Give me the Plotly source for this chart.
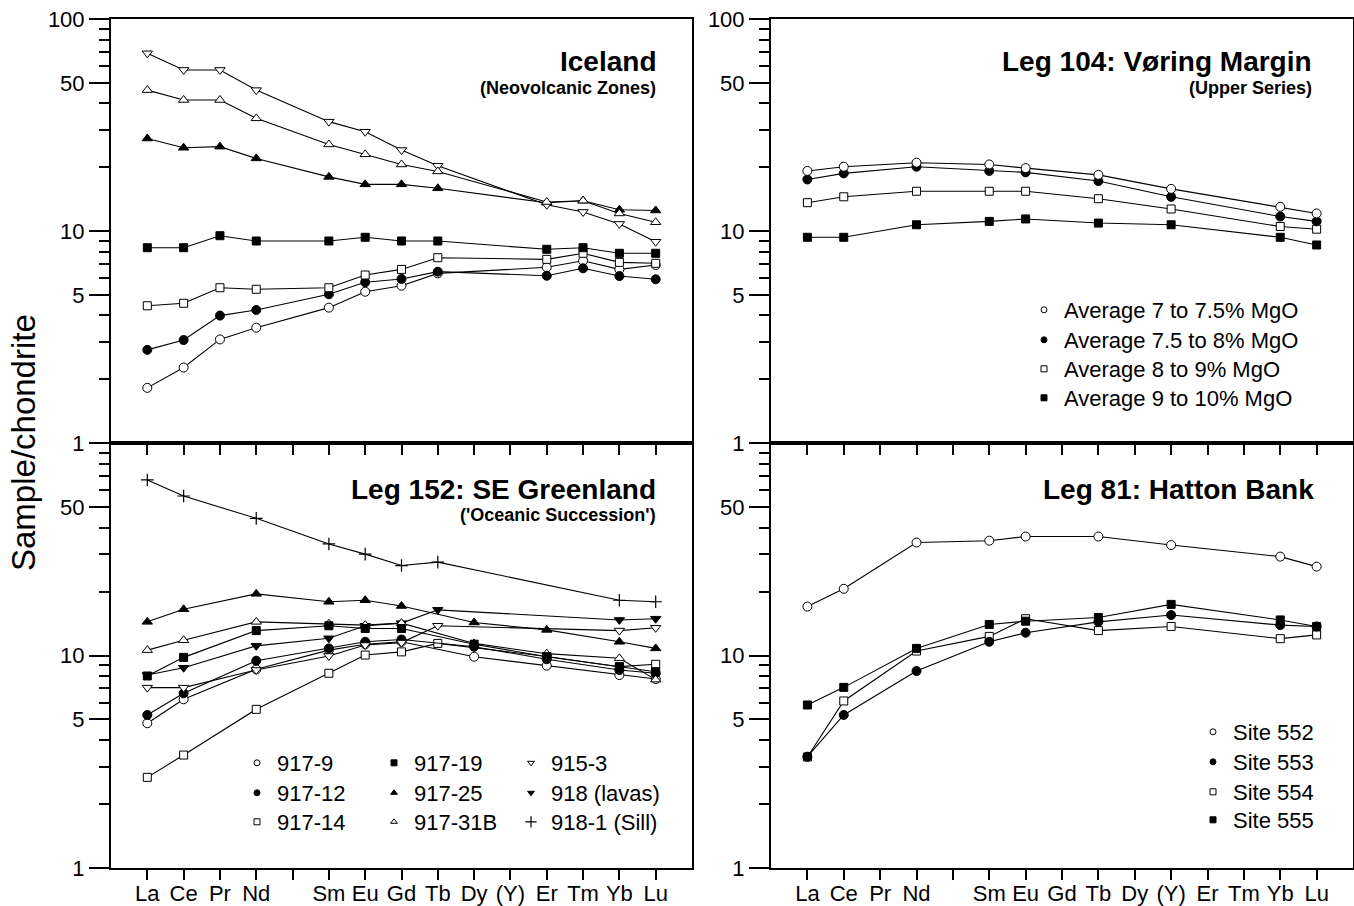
import plotly.graph_objects as go

# ---------------- data ----------------
ELEMENTS = ["La", "Ce", "Pr", "Nd", "Pm", "Sm", "Eu", "Gd", "Tb", "Dy", "Y", "Er", "Tm", "Yb", "Lu"]
TICK_LABELS = ["La", "Ce", "Pr", "Nd", "", "Sm", "Eu", "Gd", "Tb", "Dy", "(Y)", "Er", "Tm", "Yb", "Lu"]

# Iceland (Neovolcanic Zones)
ice_el = ["La", "Ce", "Pr", "Nd", "Sm", "Eu", "Gd", "Tb", "Er", "Tm", "Yb", "Lu"]
ice_tri_down_open = [68.9, 57.5, 57.5, 46.2, 32.8, 29.4, 24.1, 20.3, 13.3, 12.3, 10.8, 8.9]
ice_tri_up_open = [46.2, 41.5, 41.5, 34.0, 25.6, 23.0, 20.6, 19.1, 13.7, 13.9, 12.1, 11.0]
ice_tri_up_fill = [27.3, 24.7, 25.0, 22.0, 18.0, 16.6, 16.6, 15.9, 13.6, 13.9, 12.6, 12.5]
ice_sq_fill = [8.34, 8.34, 9.5, 8.97, 8.97, 9.34, 8.97, 8.97, 8.2, 8.34, 7.85, 7.85]
ice_sq_open = [4.44, 4.56, 5.40, 5.31, 5.40, 6.20, 6.59, 7.48, 7.35, 7.85, 7.11, 7.04]
ice_circ_fill = [2.75, 3.06, 3.99, 4.24, 5.03, 5.73, 5.94, 6.43, 6.15, 6.67, 6.13, 5.92]
ice_circ_open = [1.82, 2.27, 3.08, 3.50, 4.35, 5.17, 5.52, 6.31, 6.74, 7.24, 6.59, 6.91]

# Leg 104: Voring Margin (Upper Series)
vor_el = ["La", "Ce", "Nd", "Sm", "Eu", "Tb", "Y", "Yb", "Lu"]
vor_names = ["Average 7 to 7.5% MgO", "Average 7.5 to 8% MgO", "Average 8 to 9% MgO", "Average 9 to 10% MgO"]
vor_7_75 = [19.2, 20.1, 21.0, 20.6, 19.8, 18.4, 15.8, 13.0, 12.1]
vor_75_8 = [17.5, 18.7, 20.1, 19.2, 18.9, 17.2, 14.5, 11.7, 11.1]
vor_8_9 = [13.6, 14.5, 15.4, 15.4, 15.4, 14.2, 12.7, 10.5, 10.2]
vor_9_10 = [9.34, 9.34, 10.7, 11.1, 11.4, 10.9, 10.7, 9.34, 8.59]

# Leg 152: SE Greenland ('Oceanic Succession')
g_917_9_el = ["La", "Ce", "Nd", "Sm", "Eu", "Gd", "Dy", "Er", "Yb", "Lu"]
g_917_9 = [4.80, 6.22, 8.61, 10.6, 11.3, 11.6, 9.87, 8.96, 8.09, 7.75]
g_917_12_el = ["La", "Ce", "Nd", "Sm", "Eu", "Gd", "Dy", "Er", "Yb", "Lu"]
g_917_12 = [5.25, 6.64, 9.45, 10.8, 11.6, 11.9, 11.0, 9.6, 8.55, 8.25]
g_917_14_el = ["La", "Ce", "Nd", "Sm", "Eu", "Gd", "Tb", "Er", "Yb", "Lu"]
g_917_14 = [2.67, 3.40, 5.58, 8.25, 10.05, 10.4, 11.4, 9.9, 8.86, 9.09]
g_917_19_el = ["La", "Ce", "Nd", "Sm", "Eu", "Gd", "Dy", "Er", "Yb", "Lu"]
g_917_19 = [8.01, 9.8, 13.1, 13.8, 13.4, 13.4, 11.3, 9.87, 8.86, 8.39]
g_917_25_el = ["La", "Ce", "Nd", "Sm", "Eu", "Gd", "Dy", "Er", "Yb", "Lu"]
g_917_25 = [14.4, 16.5, 19.5, 17.9, 18.2, 17.1, 14.3, 13.2, 11.6, 10.8]
g_917_31B_el = ["La", "Ce", "Nd", "Sm", "Eu", "Gd", "Dy", "Er", "Yb", "Lu"]
g_917_31B = [10.6, 11.8, 14.4, 14.1, 13.9, 14.2, 11.4, 10.2, 9.7, 7.7]
g_915_3_el = ["La", "Ce", "Nd", "Sm", "Eu", "Gd", "Tb", "Yb", "Lu"]
g_915_3 = [7.06, 7.06, 8.55, 9.95, 11.2, 11.5, 13.8, 13.1, 13.5]
g_918_lav_el = ["La", "Ce", "Nd", "Sm", "Eu", "Gd", "Tb", "Yb", "Lu"]
g_918_lav = [8.09, 8.76, 11.1, 12.05, 13.8, 14.2, 16.4, 14.7, 14.9]
g_918_1_el = ["La", "Ce", "Nd", "Sm", "Eu", "Gd", "Tb", "Yb", "Lu"]
g_918_1 = [67.0, 56.3, 44.2, 33.5, 30.0, 26.5, 27.5, 18.2, 17.9]

# Leg 81: Hatton Bank
hat_el = ["La", "Ce", "Nd", "Sm", "Eu", "Tb", "Y", "Yb", "Lu"]
hat_names = ["Site 552", "Site 553", "Site 554", "Site 555"]
hat_552 = [17.0, 20.6, 34.0, 34.7, 36.3, 36.3, 33.1, 29.2, 26.2]
hat_553 = [3.34, 5.25, 8.45, 11.6, 12.8, 14.4, 15.5, 13.9, 13.7]
hat_554 = [3.33, 6.11, 10.5, 12.3, 14.9, 13.1, 13.7, 12.0, 12.5]
hat_555 = [5.85, 7.08, 10.8, 14.0, 14.5, 15.1, 17.4, 14.7, 13.7]

# ---------------- layout helpers ----------------
W, H = 1354, 906
FONT = "Liberation Sans, Arial, Helvetica, sans-serif"


def px(xp):
    return xp / W


def py(yp):
    return 1 - yp / H


def idx(els):
    return [ELEMENTS.index(e) for e in els]


STY = {
    "circ_open": dict(symbol="circle", color="white", size=9),
    "circ_fill": dict(symbol="circle", color="black", size=9),
    "sq_open": dict(symbol="square", color="white", size=8),
    "sq_fill": dict(symbol="square", color="black", size=8),
    "tri_up_open": dict(symbol="triangle-up", color="white", size=9),
    "tri_up_fill": dict(symbol="triangle-up", color="black", size=9),
    "tri_down_open": dict(symbol="triangle-down", color="white", size=9),
    "tri_down_fill": dict(symbol="triangle-down", color="black", size=9),
    "plus": dict(symbol="cross-thin", color="black", size=9),
}

fig = go.Figure()


def add_series(els, vals, style, ax, name):
    st = STY[style]
    lw = 1.2 if style == "plus" else 1
    fig.add_trace(go.Scatter(
        x=idx(els), y=vals, mode="lines+markers", name=name,
        line=dict(color="black", width=1.1),
        marker=dict(symbol=st["symbol"], color=st["color"], size=st["size"],
                    line=dict(color="black", width=lw)),
        xaxis="x" + ax, yaxis="y" + ax, showlegend=False, cliponaxis=False,
    ))


# Iceland (top-left)
add_series(ice_el, ice_circ_open, "circ_open", "", "Iceland A")
add_series(ice_el, ice_circ_fill, "circ_fill", "", "Iceland B")
add_series(ice_el, ice_sq_open, "sq_open", "", "Iceland C")
add_series(ice_el, ice_sq_fill, "sq_fill", "", "Iceland D")
add_series(ice_el, ice_tri_up_fill, "tri_up_fill", "", "Iceland E")
add_series(ice_el, ice_tri_down_open, "tri_down_open", "", "Iceland F")
add_series(ice_el, ice_tri_up_open, "tri_up_open", "", "Iceland G")

# Voring (top-right)
add_series(vor_el, vor_9_10, "sq_fill", "2", vor_names[3])
add_series(vor_el, vor_8_9, "sq_open", "2", vor_names[2])
add_series(vor_el, vor_75_8, "circ_fill", "2", vor_names[1])
add_series(vor_el, vor_7_75, "circ_open", "2", vor_names[0])

# Leg 152 (bottom-left)
add_series(g_918_1_el, g_918_1, "plus", "3", "918-1 (Sill)")
add_series(g_917_14_el, g_917_14, "sq_open", "3", "917-14")
add_series(g_917_9_el, g_917_9, "circ_open", "3", "917-9")
add_series(g_917_12_el, g_917_12, "circ_fill", "3", "917-12")
add_series(g_915_3_el, g_915_3, "tri_down_open", "3", "915-3")
add_series(g_918_lav_el, g_918_lav, "tri_down_fill", "3", "918 (lavas)")
add_series(g_917_31B_el, g_917_31B, "tri_up_open", "3", "917-31B")
add_series(g_917_19_el, g_917_19, "sq_fill", "3", "917-19")
add_series(g_917_25_el, g_917_25, "tri_up_fill", "3", "917-25")

# Hatton (bottom-right)
add_series(hat_el, hat_554, "sq_open", "4", hat_names[2])
add_series(hat_el, hat_553, "circ_fill", "4", hat_names[1])
add_series(hat_el, hat_555, "sq_fill", "4", hat_names[3])
add_series(hat_el, hat_552, "circ_open", "4", hat_names[0])

# ---------------- legends (one plotly legend per entry, marker only) ----------------
LEG_FONT = dict(family=FONT, size=22, color="black")
legend_layout = {}
leg_count = [0]


def leg_entry(style, ax, name, mx, my, size=6):
    """mx, my: pixel position of the legend symbol centre."""
    leg_count[0] += 1
    key = "legend" if leg_count[0] == 1 else "legend%d" % leg_count[0]
    st = STY[style]
    lw = 1.2 if style == "plus" else 1
    fig.add_trace(go.Scatter(
        x=[None], y=[None], mode="markers", name=name,
        marker=dict(symbol=st["symbol"], color=st["color"], size=size,
                    line=dict(color="black", width=lw)),
        xaxis="x" + ax, yaxis="y" + ax, showlegend=True, legend=key,
    ))
    legend_layout[key] = dict(
        x=px(mx - 20), y=py(my - 21), xanchor="left", yanchor="top",
        bgcolor="rgba(0,0,0,0)", borderwidth=0, font=LEG_FONT,
        tracegroupgap=0, itemsizing="trace",
    )


G_COLS = [257, 394, 531]
G_ROWS = [763, 793, 822]
leg_entry("circ_open", "3", "917-9", G_COLS[0], G_ROWS[0])
leg_entry("circ_fill", "3", "917-12", G_COLS[0], G_ROWS[1])
leg_entry("sq_open", "3", "917-14", G_COLS[0], G_ROWS[2])
leg_entry("sq_fill", "3", "917-19", G_COLS[1], G_ROWS[0])
leg_entry("tri_up_fill", "3", "917-25", G_COLS[1], G_ROWS[1])
leg_entry("tri_up_open", "3", "917-31B", G_COLS[1], G_ROWS[2])
leg_entry("tri_down_open", "3", "915-3", G_COLS[2], G_ROWS[0])
leg_entry("tri_down_fill", "3", "918 (lavas)", G_COLS[2], G_ROWS[1])
leg_entry("plus", "3", "918-1 (Sill)", G_COLS[2], G_ROWS[2], size=8)

V_ROWS = [310, 340, 369, 398]
for nm, stl, ry in zip(vor_names, ["circ_open", "circ_fill", "sq_open", "sq_fill"], V_ROWS):
    leg_entry(stl, "2", nm, 1044, ry)

HB_ROWS = [732, 762, 792, 820]
for nm, stl, ry in zip(hat_names, ["circ_open", "circ_fill", "sq_open", "sq_fill"], HB_ROWS):
    leg_entry(stl, "4", nm, 1213, ry)

# ---------------- axes ----------------
LX = [111, 692]
RX = [771, 1353]
TY = [19, 443]
BY = [443, 868]


def xaxis(dom, labels):
    return dict(
        domain=[px(dom[0]), px(dom[1])], range=[-1, 15],
        tickmode="array", tickvals=list(range(len(ELEMENTS))),
        ticktext=TICK_LABELS if labels else [""] * len(ELEMENTS),
        showticklabels=labels, automargin=False, ticklabelstandoff=-5,
        ticks="outside", ticklen=10, tickwidth=1.8, tickcolor="black",
        showline=True, linecolor="black", linewidth=2, mirror=True,
        showgrid=False, zeroline=False,
        tickfont=dict(family=FONT, size=22, color="black"),
        fixedrange=True,
    )


def yaxis(dom, top, anchor):
    if top:
        major = [1, 5, 10, 50, 100]
        labels = ["1", "5", "10", "50", "100"]
    else:
        major = [1, 5, 10, 50]
        labels = ["1", "5", "10", "50"]
    minor = [2, 3, 4, 6, 7, 8, 9, 20, 30, 40, 60, 70, 80, 90]
    return dict(
        domain=[py(dom[1]), py(dom[0])], type="log", range=[0, 2],
        tickmode="array", tickvals=major, ticktext=labels, automargin=False,
        ticks="outside", ticklen=20, tickwidth=1.8, tickcolor="black",
        minor=dict(tickmode="array", tickvals=minor, ticks="outside",
                   ticklen=10, tickwidth=1.8, tickcolor="black", showgrid=False),
        showline=True, linecolor="black", linewidth=2, mirror=True,
        showgrid=False, zeroline=False, anchor=anchor,
        tickfont=dict(family=FONT, size=22, color="black"),
        fixedrange=True,
    )


fig.update_layout(
    template="none",
    width=W, height=H, margin=dict(l=0, r=0, t=0, b=0, autoexpand=False),
    paper_bgcolor="white", plot_bgcolor="white",
    font=dict(family=FONT, color="black"),
    xaxis=dict(**xaxis(LX, False), anchor="y"),
    yaxis=yaxis(TY, True, "x"),
    xaxis2=dict(**xaxis(RX, False), anchor="y2"),
    yaxis2=yaxis(TY, True, "x2"),
    xaxis3=dict(**xaxis(LX, True), anchor="y3"),
    yaxis3=yaxis(BY, False, "x3"),
    xaxis4=dict(**xaxis(RX, True), anchor="y4"),
    yaxis4=yaxis(BY, False, "x4"),
    showlegend=True,
    **legend_layout,
)


# ---------------- titles ----------------
def title(text, xr, y, size, bold=True):
    fig.add_annotation(
        text=("<b>%s</b>" % text) if bold else text, x=px(xr), y=py(y),
        xref="paper", yref="paper", xanchor="right", yanchor="middle",
        showarrow=False, font=dict(family=FONT, size=size, color="black"),
    )


title("Iceland", 658, 61, 28)
title("(Neovolcanic Zones)", 658, 88, 18)
title("Leg 104: Vøring Margin", 1314, 61, 28)
title("(Upper Series)", 1314, 88, 18)
title("Leg 152: SE Greenland", 658, 489, 28)
title("('Oceanic Succession')", 658, 515, 18)
title("Leg 81: Hatton Bank", 1316, 489, 28)

fig.add_annotation(
    text="Sample/chondrite", x=px(24), y=py(443), xref="paper", yref="paper",
    textangle=-90, showarrow=False, xanchor="center", yanchor="middle",
    font=dict(family=FONT, size=33, color="black"),
)

fig.write_html("out.html", config={"displayModeBar": False},
               post_script="document.body.style.margin='0px';")
